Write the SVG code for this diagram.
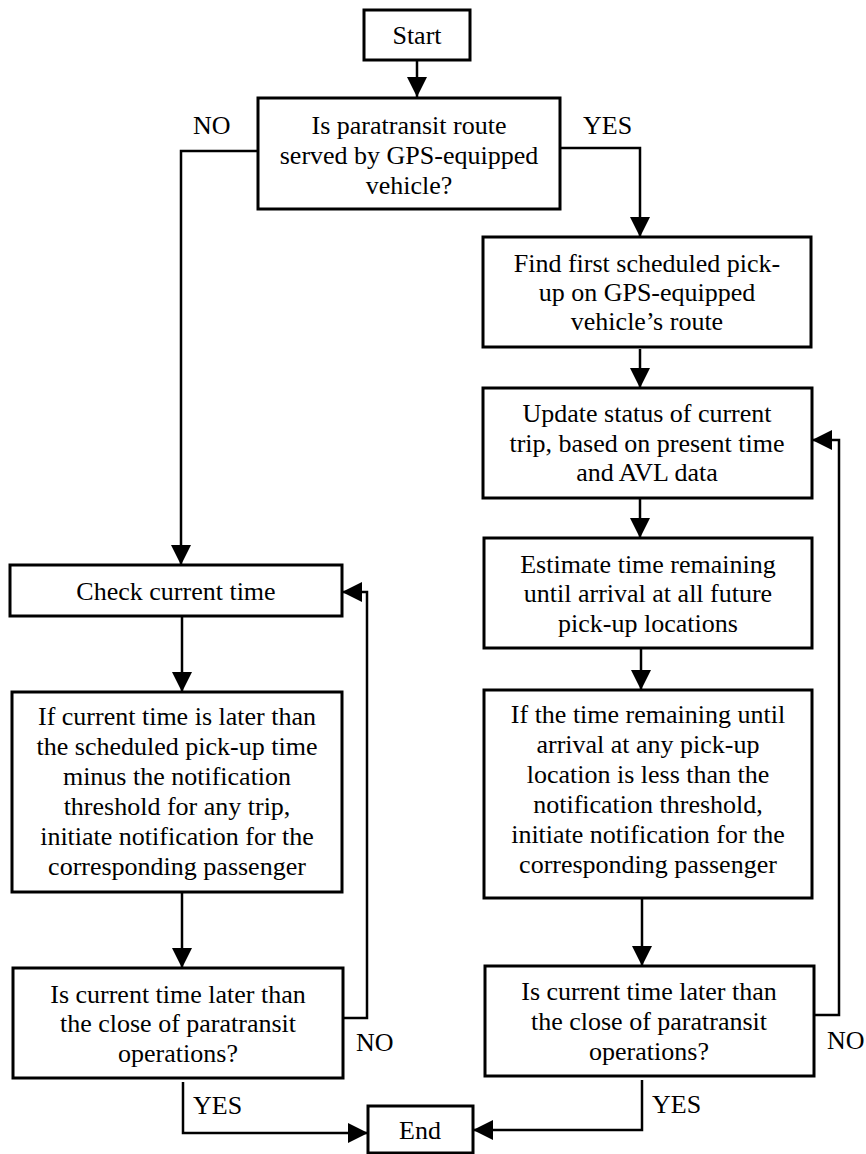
<svg xmlns="http://www.w3.org/2000/svg" width="866" height="1154" viewBox="0 0 866 1154">
<defs>
<marker id="ah" markerWidth="20" markerHeight="20" viewBox="0 0 20 20" refX="20" refY="10" orient="auto" markerUnits="userSpaceOnUse">
<path d="M0,0 L20,10 L0,20 Z" fill="#000"/>
</marker>
<style>
.box{fill:#fff;stroke:#000;stroke-width:3}
.t{font-family:"Liberation Serif","Times New Roman",serif;font-size:26px;fill:#000;text-anchor:middle}
.l{font-family:"Liberation Serif","Times New Roman",serif;font-size:26px;fill:#000}
.c{fill:none;stroke:#000;stroke-width:2.5}
</style>
</defs>
<rect width="866" height="1154" fill="#fff"/>
<g id="connectors">
<path class="c" d="M417,60 L417,97" marker-end="url(#ah)"/>
<path class="c" d="M258,151 L181,151 L181,565" marker-end="url(#ah)"/>
<path class="c" d="M560,148 L640,148 L640,237" marker-end="url(#ah)"/>
<path class="c" d="M640,349 L640,388" marker-end="url(#ah)"/>
<path class="c" d="M640,499 L640,538" marker-end="url(#ah)"/>
<path class="c" d="M641,649 L641,690" marker-end="url(#ah)"/>
<path class="c" d="M642,898 L642,966" marker-end="url(#ah)"/>
<path class="c" d="M182,616 L182,692" marker-end="url(#ah)"/>
<path class="c" d="M182,892 L182,968" marker-end="url(#ah)"/>
<path class="c" d="M343,1018 L367,1018 L367,592 L342,592" marker-end="url(#ah)"/>
<path class="c" d="M814,1015 L839,1015 L839,440 L812,440" marker-end="url(#ah)"/>
<path class="c" d="M183,1082 L183,1133 L368,1133" marker-end="url(#ah)"/>
<path class="c" d="M642,1080 L642,1130 L473,1130" marker-end="url(#ah)"/>
<text class="l" x="193" y="134">NO</text>
<text class="l" x="583" y="134">YES</text>
<text class="l" x="356" y="1051">NO</text>
<text class="l" x="827" y="1049">NO</text>
<text class="l" x="193" y="1114">YES</text>
<text class="l" x="652" y="1113">YES</text>
</g>
<g id="start">
<rect class="box" x="364" y="10" width="106" height="50"/>
<text class="t" x="417" y="44">Start</text>
</g>
<g id="q1">
<rect class="box" x="258" y="98" width="302" height="111"/>
<text class="t" x="409" y="134">Is paratransit route</text>
<text class="t" x="409" y="164">served by GPS-equipped</text>
<text class="t" x="409" y="194">vehicle?</text>
</g>
<g id="find">
<rect class="box" x="483" y="237" width="328" height="110"/>
<text class="t" x="647" y="272">Find first scheduled pick-</text>
<text class="t" x="647" y="301">up on GPS-equipped</text>
<text class="t" x="647" y="330">vehicle’s route</text>
</g>
<g id="update">
<rect class="box" x="483" y="388" width="329" height="110"/>
<text class="t" x="647" y="422">Update status of current</text>
<text class="t" x="647" y="452">trip, based on present time</text>
<text class="t" x="647" y="481">and AVL data</text>
</g>
<g id="estimate">
<rect class="box" x="484" y="538" width="328" height="110"/>
<text class="t" x="648" y="573">Estimate time remaining</text>
<text class="t" x="648" y="602">until arrival at all future</text>
<text class="t" x="648" y="632">pick-up locations</text>
</g>
<g id="ifright">
<rect class="box" x="484" y="690" width="328" height="208"/>
<text class="t" x="648" y="723">If the time remaining until</text>
<text class="t" x="648" y="753">arrival at any pick-up</text>
<text class="t" x="648" y="783">location is less than the</text>
<text class="t" x="648" y="813">notification threshold,</text>
<text class="t" x="648" y="843">initiate notification for the</text>
<text class="t" x="648" y="873">corresponding passenger</text>
</g>
<g id="qright">
<rect class="box" x="485" y="966" width="329" height="110"/>
<text class="t" x="649" y="1000">Is current time later than</text>
<text class="t" x="649" y="1030">the close of paratransit</text>
<text class="t" x="649" y="1060">operations?</text>
</g>
<g id="check">
<rect class="box" x="10" y="565" width="332" height="51"/>
<text class="t" x="176" y="600">Check current time</text>
</g>
<g id="ifleft">
<rect class="box" x="12" y="692" width="330" height="200"/>
<text class="t" x="177" y="725">If current time is later than</text>
<text class="t" x="177" y="755">the scheduled pick-up time</text>
<text class="t" x="177" y="785">minus the notification</text>
<text class="t" x="177" y="815">threshold for any trip,</text>
<text class="t" x="177" y="845">initiate notification for the</text>
<text class="t" x="177" y="875">corresponding passenger</text>
</g>
<g id="qleft">
<rect class="box" x="13" y="968" width="330" height="110"/>
<text class="t" x="178" y="1003">Is current time later than</text>
<text class="t" x="178" y="1032">the close of paratransit</text>
<text class="t" x="178" y="1062">operations?</text>
</g>
<g id="end">
<rect class="box" x="368" y="1106" width="105" height="47"/>
<text class="t" x="420" y="1139">End</text>
</g>
</svg>
